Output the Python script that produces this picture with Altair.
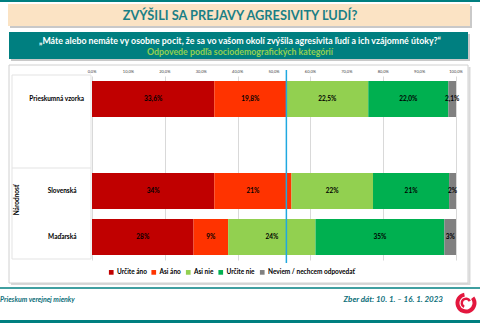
import altair as alt
import pandas as pd

# ---- data ----
categories = ["Prieskumná vzorka", "Slovenská", "Maďarská"]
answers = ["Určite áno", "Asi áno", "Asi nie", "Určite nie", "Neviem / nechcem odpovedať"]
colors = ["#C00000", "#FF3300", "#92D050", "#00B050", "#808080"]
sample_vals = [33.6, 19.8, 22.5, 22.0, 2.1]
slovak_vals = [33.6, 21.2, 22.4, 20.9, 1.9]
hungarian_vals = [27.9, 9.5, 24.0, 35.4, 3.2]
sample_labels = ["33,6%", "19,8%", "22,5%", "22,0%", "2,1%"]
slovak_labels = ["34%", "21%", "22%", "21%", "2%"]
hungarian_labels = ["28%", "9%", "24%", "35%", "3%"]
tick_values = [0, 10, 20, 30, 40, 50, 60, 70, 80, 90, 100]
tick_labels = ["0,0%", "10,0%", "20,0%", "30,0%", "40,0%", "50,0%",
               "60,0%", "70,0%", "80,0%", "90,0%", "100,0%"]

GAP = " "
y_domain = [categories[0], GAP, categories[1], categories[2]]

rows = []
for cat, vals, labs in zip(categories,
                           [sample_vals, slovak_vals, hungarian_vals],
                           [sample_labels, slovak_labels, hungarian_labels]):
    s = 0.0
    for a, v, l in zip(answers, vals, labs):
        rows.append({"cat": cat, "answer": a, "start": s, "end": s + v,
                     "mid": s + v / 2, "label": l})
        s += v
df = pd.DataFrame(rows)
ticks_df = pd.DataFrame({"t": tick_values, "lab": tick_labels})

# ---- layout ----
W, H = 480, 323
PL, PT, PR, PB = 92, 76, 24, 63
PW, PH = W - PL - PR, H - PT - PB
FONT = "Lato"
TEAL = "#007F80"
dummy = pd.DataFrame({"d": [0]})


def px(x):
    return x - PL


def py(y):
    return y - PT


def rect(x1, y1, x2, y2, fill, stroke=None, sw=1):
    kw = dict(fill=fill)
    if stroke:
        kw.update(stroke=stroke, strokeWidth=sw)
    else:
        kw.update(strokeWidth=0)
    return alt.Chart(dummy).mark_rect(**kw).encode(
        x=alt.value(px(x1)), x2=alt.value(px(x2)),
        y=alt.value(py(y1)), y2=alt.value(py(y2)))


def rule(x1, y1, x2, y2, color, sw=1):
    return alt.Chart(dummy).mark_rule(color=color, strokeWidth=sw).encode(
        x=alt.value(px(x1)), x2=alt.value(px(x2)),
        y=alt.value(py(y1)), y2=alt.value(py(y2)))


def text(x, y, s, size, color="black", align="center", weight="bold",
         style="normal", angle=0, baseline="middle"):
    return alt.Chart(dummy).mark_text(
        font=FONT, fontSize=size, color=color, align=align, fontWeight=weight,
        fontStyle=style, angle=angle, baseline=baseline).encode(
        x=alt.value(px(x)), y=alt.value(py(y)), text=alt.value(s))


deco = [
    rect(0, 0, 480, 2, TEAL),
    # title box
    rect(10, 6, 472, 28, "#C9C9C9"),
    rect(8, 4, 470, 26, "#FBE3C4"),
    text(240, 15.5, "ZVÝŠILI SA PREJAVY AGRESIVITY ĽUDÍ?", 12.8, "#1A7F86"),
    # question box
    rect(11, 34, 470, 61, "#C9C9C9"),
    rect(9, 32, 468, 59, TEAL),
    text(240, 40.5, "„Máte alebo nemáte vy osobne pocit, že sa vo vašom okolí zvýšila agresivita ľudí a ich vzájomné útoky?“", 8.8, "white"),
    text(240, 51.5, "Odpovede podľa sociodemografických kategórií", 8.8, "#92D050"),
    # chart box
    rule(11, 284, 470, 284, "#D9D9D9", 2),
    rule(469.5, 67, 469.5, 285, "#D9D9D9", 2),
    rect(9, 65, 468, 283, "transparent", "#D0D0D0", 1),
    # category label box
    rect(12, 75, 91, 259, "transparent", "#E3E3E3", 1),
    rule(12, 168, 91, 168, "#E3E3E3", 1),
    text(16.5, 200, "Národnosť", 6.5, "black", angle=270),
    # footer
    rule(0, 288, 480, 288, TEAL, 1.5),
    rect(0, 320, 480, 323, TEAL),
    text(0, 300, "Prieskum verejnej mienky", 7, "#0E6F7A", align="left", style="italic"),
    text(443, 300, "Zber dát: 10. 1. – 16. 1. 2023", 8, "#0E6F7A", align="right", style="italic"),
    alt.Chart(dummy).mark_arc(theta=0.9, theta2=6.1, radius=10.5, radius2=6.5,
                              color="#E3173E").encode(
        x=alt.value(px(466)), y=alt.value(py(303))),
    alt.Chart(dummy).mark_arc(theta=3.6, theta2=7.4, radius=5.5, radius2=3,
                              color="#E3173E").encode(
        x=alt.value(px(466)), y=alt.value(py(303))),
]

xscale = alt.Scale(domain=[0, 100], nice=False, zero=False)
yscale = alt.Scale(domain=y_domain, paddingInner=0.217, paddingOuter=0.109)

bars = alt.Chart(df).mark_bar(strokeWidth=0).encode(
    x=alt.X("start:Q", scale=xscale,
            axis=alt.Axis(orient="top", values=tick_values, grid=True,
                          gridColor="#D9D9D9", gridWidth=1, domain=False,
                          ticks=False, labels=False, title=None)),
    x2="end:Q",
    y=alt.Y("cat:N", scale=yscale, axis=None),
    color=alt.Color("answer:N",
                    scale=alt.Scale(domain=answers, range=colors),
                    legend=alt.Legend(orient="none", direction="horizontal",
                                      legendX=16, legendY=193, title=None,
                                      symbolType="square", symbolSize=22,
                                      symbolStrokeWidth=0,
                                      labelFontSize=6.5, labelFont=FONT,
                                      labelFontWeight="bold",
                                      labelColor="black",
                                      columnPadding=3.5, labelOffset=2.5,
                                      padding=0)),
)

tick_text = alt.Chart(ticks_df).mark_text(font=FONT, fontSize=4, color="#404040",
                                          baseline="bottom").encode(
    x=alt.X("t:Q", scale=xscale), y=alt.value(py(73.5)), text="lab:N")

labels = alt.Chart(df).mark_text(font=FONT, fontSize=6.5, fontWeight="bold",
                                 color="black").encode(
    x=alt.X("mid:Q", scale=xscale),
    y=alt.Y("cat:N", scale=yscale, axis=None),
    text="label:N",
)

ref_value = sample_vals[0] + sample_vals[1]
blue = alt.Chart(pd.DataFrame({"v": [ref_value]})).mark_rule(
    color="#1FA8E0", strokeWidth=1.5).encode(
    x=alt.X("v:Q", scale=xscale), y=alt.value(py(70)), y2=alt.value(py(263)))

cat_df1 = pd.DataFrame({"cat": categories[:1]})
cat_df2 = pd.DataFrame({"cat": categories[1:]})
cat_lab1 = alt.Chart(cat_df1).mark_text(font=FONT, fontSize=6.5, fontWeight="bold",
                                        align="right", color="black").encode(
    x=alt.value(px(84)), y=alt.Y("cat:N", scale=yscale, axis=None), text="cat:N")
cat_lab2 = alt.Chart(cat_df2).mark_text(font=FONT, fontSize=6.5, fontWeight="bold",
                                        align="right", color="black").encode(
    x=alt.value(px(76.5)), y=alt.Y("cat:N", scale=yscale, axis=None), text="cat:N")

chart = alt.layer(*deco, bars, tick_text, labels, blue, cat_lab1, cat_lab2).properties(
    width=PW, height=PH,
    autosize=alt.AutoSizeParams(type="none"),
    padding={"left": PL, "top": PT, "right": PR, "bottom": PB},
    background="white",
).configure_view(stroke=None).configure_text(font=FONT)

chart.save("out.html", embed_options={"renderer": "svg", "actions": False})
